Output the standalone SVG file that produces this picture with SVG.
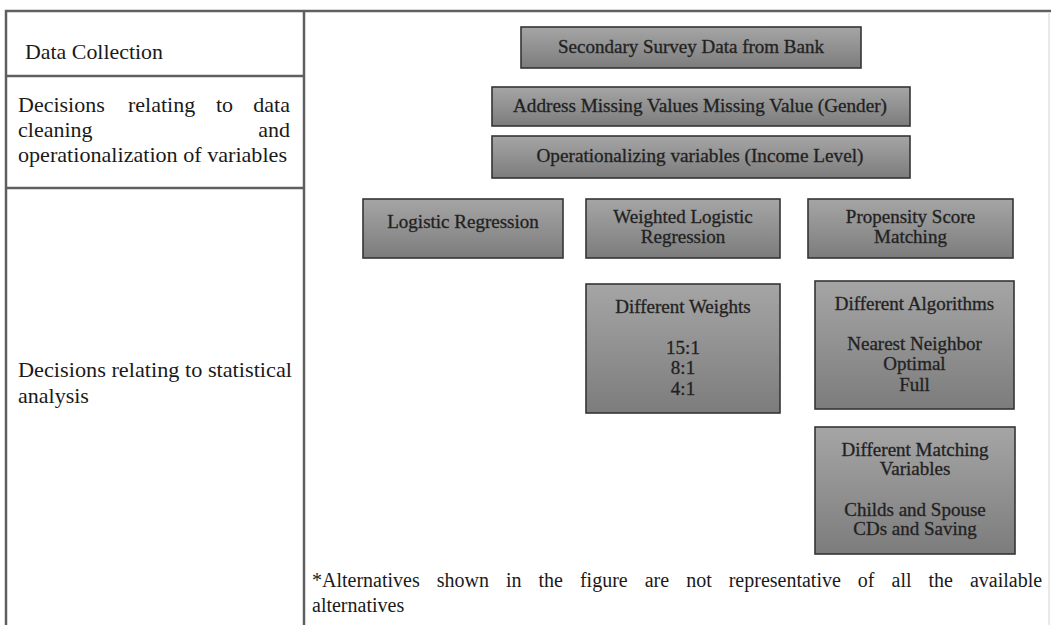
<svg xmlns="http://www.w3.org/2000/svg" width="1051" height="625" viewBox="0 0 1051 625">
<style>
  .grid { stroke: #5f5f5f; stroke-width: 2.5; fill: none; }
  .box { fill: url(#boxfill); stroke: #353535; stroke-width: 1.6; }
  .bt { font-family: "Liberation Serif", "Times New Roman", serif; font-size: 19px; fill: #1e1e1e; stroke: #2a2a2a; stroke-width: 0.35; text-anchor: middle; }
  .lt { font-family: "Liberation Serif", "Times New Roman", serif; font-size: 22px; fill: #1a1a1a; }
  .ft { font-family: "Liberation Serif", "Times New Roman", serif; font-size: 20px; fill: #1a1a1a; }
</style>
<defs>
  <linearGradient id="boxfill" x1="0" y1="0" x2="0" y2="1">
    <stop offset="0" stop-color="#a5a5a5"/>
    <stop offset="0.5" stop-color="#919191"/>
    <stop offset="1" stop-color="#7c7c7c"/>
  </linearGradient>
</defs>
<rect x="0" y="0" width="1051" height="625" fill="#ffffff"/>

<g id="table">
  <line class="grid" x1="5" y1="11" x2="1051" y2="11"/>
  <line class="grid" x1="6" y1="10" x2="6" y2="625"/>
  <line class="grid" x1="304" y1="10" x2="304" y2="625"/>
  <line class="grid" x1="6" y1="76" x2="304" y2="76"/>
  <line class="grid" x1="6" y1="188" x2="304" y2="188"/>
  <line x1="1049" y1="12" x2="1049" y2="625" stroke="#e2e2e2" stroke-width="1.5"/>
</g>

<g id="row-labels">
  <text class="lt" x="25" y="59" textLength="138" lengthAdjust="spacingAndGlyphs">Data Collection</text>
  <text class="lt" x="18" y="112">Decisions</text>
  <text class="lt" x="128" y="112">relating</text>
  <text class="lt" x="216" y="112">to</text>
  <text class="lt" x="290" y="112" text-anchor="end">data</text>
  <text class="lt" x="18" y="137">cleaning</text>
  <text class="lt" x="290" y="137" text-anchor="end">and</text>
  <text class="lt" x="18" y="162" textLength="269" lengthAdjust="spacingAndGlyphs">operationalization of variables</text>
  <text class="lt" x="18" y="377" textLength="274" lengthAdjust="spacingAndGlyphs">Decisions relating to statistical</text>
  <text class="lt" x="18" y="403">analysis</text>
</g>

<g id="node-secondary">
  <rect class="box" x="521" y="27" width="340" height="41"/>
  <text class="bt" x="691" y="53">Secondary Survey Data from Bank</text>
</g>
<g id="node-missing">
  <rect class="box" x="492" y="87" width="418" height="39"/>
  <text class="bt" x="700" y="112" textLength="374" lengthAdjust="spacingAndGlyphs">Address Missing Values Missing Value (Gender)</text>
</g>
<g id="node-operationalizing">
  <rect class="box" x="492" y="136" width="418" height="42"/>
  <text class="bt" x="700" y="162" textLength="327" lengthAdjust="spacingAndGlyphs">Operationalizing variables (Income Level)</text>
</g>
<g id="node-logistic">
  <rect class="box" x="363" y="199" width="200" height="59"/>
  <text class="bt" x="463" y="228">Logistic Regression</text>
</g>
<g id="node-weighted">
  <rect class="box" x="586" y="199" width="194" height="59"/>
  <text class="bt" x="683" y="223">Weighted Logistic</text>
  <text class="bt" x="683" y="243">Regression</text>
</g>
<g id="node-propensity">
  <rect class="box" x="808" y="199" width="205" height="59"/>
  <text class="bt" x="910.5" y="223">Propensity Score</text>
  <text class="bt" x="910.5" y="243">Matching</text>
</g>
<g id="node-weights">
  <rect class="box" x="586" y="284" width="194" height="129"/>
  <text class="bt" x="683" y="313">Different Weights</text>
  <text class="bt" x="683" y="354">15:1</text>
  <text class="bt" x="683" y="374">8:1</text>
  <text class="bt" x="683" y="395">4:1</text>
</g>
<g id="node-algorithms">
  <rect class="box" x="815" y="281" width="199" height="128"/>
  <text class="bt" x="914.5" y="310">Different Algorithms</text>
  <text class="bt" x="914.5" y="350">Nearest Neighbor</text>
  <text class="bt" x="914.5" y="370">Optimal</text>
  <text class="bt" x="914.5" y="391">Full</text>
</g>
<g id="node-matching">
  <rect class="box" x="815" y="427" width="200" height="127"/>
  <text class="bt" x="915" y="456">Different Matching</text>
  <text class="bt" x="915" y="475">Variables</text>
  <text class="bt" x="915" y="516">Childs and Spouse</text>
  <text class="bt" x="915" y="535">CDs and Saving</text>
</g>

<g id="connectors"></g>

<g id="footnote">
  <text class="ft" x="312" y="587" word-spacing="12">*Alternatives shown in the figure are not representative of all the available</text>
  <text class="ft" x="312" y="612">alternatives</text>
</g>
</svg>
